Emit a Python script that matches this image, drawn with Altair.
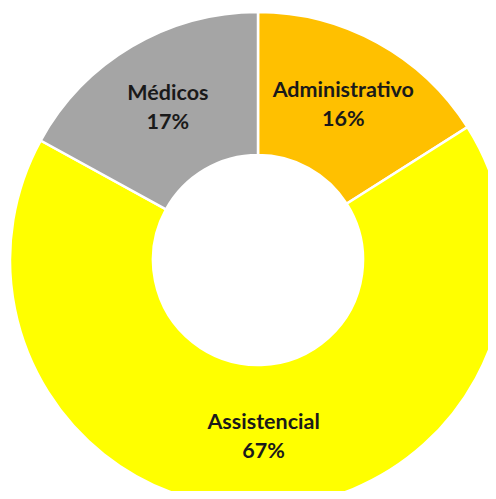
import altair as alt
import pandas as pd

categories = ["Administrativo", "Assistencial", "Médicos"]
values = [16, 67, 17]
colors = ["#FFC000", "#FFFF00", "#A5A5A5"]

df = pd.DataFrame({
    "cat": categories,
    "val": values,
    "ord": list(range(len(categories))),
})
df["label"] = [f"{c}\n{v}%" for c, v in zip(categories, values)]

cx, cy = 250, 252

base = alt.Chart(df).encode(
    theta=alt.Theta("val:Q", stack=True),
    order=alt.Order("ord:Q"),
)

arcs = base.mark_arc(outerRadius=248, innerRadius=105, stroke="white", strokeWidth=2.5).encode(
    x=alt.value(cx), y=alt.value(cy),
    color=alt.Color("cat:N", scale=alt.Scale(domain=categories, range=colors), legend=None),
)

labels = base.mark_text(
    radius=177, font="Lato", fontWeight="bold", fontSize=21.5, dy=-14,
    lineBreak="\n", lineHeight=29, color="#1A1A1A", align="center", baseline="middle",
).encode(
    x=alt.value(cx), y=alt.value(cy),
    text="label:N",
)

chart = (arcs + labels).properties(
    width=480, height=483,
    autosize=alt.AutoSizeParams(type="none"),
    padding=0,
).configure_view(strokeWidth=0)

chart.save("out.html", embed_options={"renderer": "svg", "actions": False})
